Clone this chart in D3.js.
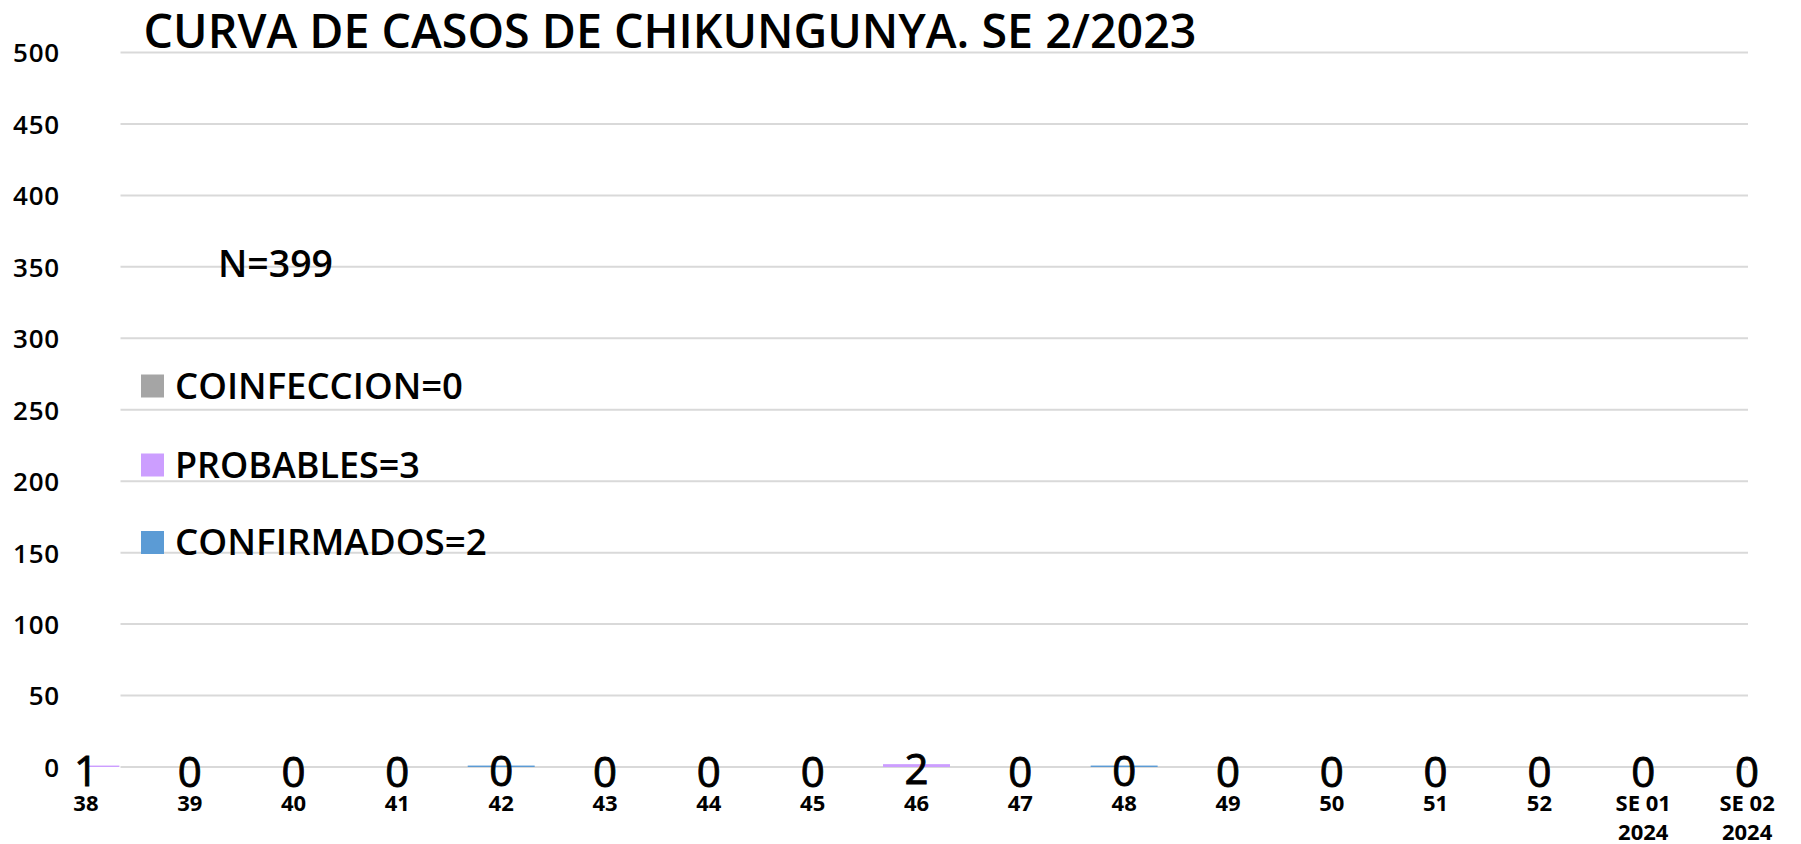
<!DOCTYPE html>
<html>
<head>
<meta charset="utf-8">
<script src="https://cdn.jsdelivr.net/npm/d3@7"></script>
<style>
  html, body { margin: 0; padding: 0; background: #fff; }
  svg { display: block; font-family: "Open Sans", "Noto Sans", sans-serif; }
</style>
</head>
<body>
<svg class="board" width="1801" height="844"></svg>
<script>
var weeks = ['38', '39', '40', '41', '42', '43', '44', '45', '46', '47', '48', '49', '50', '51', '52', 'SE 01|2024', 'SE 02|2024'];
var confirmados = [0, 0, 0, 0, 1, 0, 0, 0, 0, 0, 1, 0, 0, 0, 0, 0, 0];
var probables = [1, 0, 0, 0, 0, 0, 0, 0, 2, 0, 0, 0, 0, 0, 0, 0, 0];
var coinfeccion = [0, 0, 0, 0, 0, 0, 0, 0, 0, 0, 0, 0, 0, 0, 0, 0, 0];
var yTicks = [0, 50, 100, 150, 200, 250, 300, 350, 400, 450, 500];
var seriesNames = ['CONFIRMADOS', 'PROBABLES', 'COINFECCION'];
var legendLabels = ['COINFECCION=0', 'PROBABLES=3', 'CONFIRMADOS=2'];
var titleText = 'CURVA DE CASOS DE CHIKUNGUNYA. SE 2/2023';
var totalText = 'N=399';

var colors = {
  CONFIRMADOS: '#5b9bd5',
  PROBABLES: '#cc9eff',
  COINFECCION: '#a5a5a5'
};

var svg = d3.select('.board');

var x = d3.scaleBand()
  .domain(weeks)
  .range([34, 1799])
  .paddingInner(0.355)
  .paddingOuter(0.1775);

var y = d3.scaleLinear()
  .domain([0, 500])
  .range([767, 52.5]);

var gridLeft = 120.5;
var gridRight = 1748;

// fit a text element to a measured pixel width by tuning its font size
function fitWidth(sel, target) {
  var node = sel.node();
  var size = parseFloat(sel.attr('font-size'));
  var w = node.getComputedTextLength();
  sel.attr('font-size', +(size * target / w).toFixed(2));
}

// gridlines
svg.append('g')
  .selectAll('line')
  .data(yTicks)
  .enter()
  .append('line')
  .attr('x1', gridLeft)
  .attr('x2', gridRight)
  .attr('y1', d => y(d))
  .attr('y2', d => y(d))
  .attr('stroke', '#d9d9d9')
  .attr('stroke-width', 2);

// y axis labels
var yAxis = d3.axisLeft(y).tickValues(yTicks).tickSize(0).tickPadding(0);
var yG = svg.append('g')
  .attr('transform', 'translate(60,0)')
  .call(yAxis);
yG.select('.domain').remove();
yG.selectAll('text')
  .attr('font-size', 26)
  .attr('font-weight', 600)
  .attr('letter-spacing', 0.8)
  .attr('font-family', '"Open Sans", sans-serif')
  .attr('fill', '#000')
  .attr('dy', '0.36em');

// stacked bars
var table = weeks.map((w, i) => ({
  week: w,
  CONFIRMADOS: confirmados[i],
  PROBABLES: probables[i],
  COINFECCION: coinfeccion[i]
}));
var stacked = d3.stack().keys(seriesNames)(table);

svg.append('clipPath')
  .attr('id', 'plot-clip')
  .append('rect')
  .attr('x', x(weeks[0]) + x.bandwidth() / 2)
  .attr('y', 0)
  .attr('width', 1801)
  .attr('height', 844);

var barRoot = svg.append('g').attr('clip-path', 'url(#plot-clip)');
barRoot.selectAll('g')
  .data(stacked)
  .enter()
  .append('g')
  .attr('fill', s => colors[s.key])
  .selectAll('rect')
  .data(s => s)
  .enter()
  .append('rect')
  .attr('x', d => x(d.data.week))
  .attr('width', x.bandwidth())
  .attr('y', d => y(d[1]))
  .attr('height', d => y(d[0]) - y(d[1]));

// data labels (probables) at stack top
var topSeries = stacked[stacked.length - 1];
svg.append('g')
  .selectAll('text')
  .data(table)
  .enter()
  .append('text')
  .attr('x', d => x(d.week) + x.bandwidth() / 2)
  .attr('y', (d, i) => y(topSeries[i][1]) + 20)
  .attr('text-anchor', 'middle')
  .attr('font-size', 42)
  .attr('fill', '#000')
  .attr('stroke', '#000')
  .attr('stroke-width', 0.9)
  .text(d => d.PROBABLES);

// x axis labels
var xLabels = svg.append('g')
  .selectAll('text')
  .data(weeks)
  .enter()
  .append('text')
  .attr('x', d => x(d) + x.bandwidth() / 2)
  .attr('y', 811)
  .attr('text-anchor', 'middle')
  .attr('font-size', 22)
  .attr('font-weight', 'bold')
  .attr('fill', '#000');
xLabels.selectAll('tspan')
  .data(d => d.split('|'))
  .enter()
  .append('tspan')
  .attr('x', function() { return this.parentNode.getAttribute('x'); })
  .attr('dy', (d, i) => i ? 29 : 0)
  .text(d => d);

// title
var title = svg.append('text')
  .attr('x', 143.6)
  .attr('y', 48)
  .attr('font-size', 46)
  .attr('font-weight', 600)
  .attr('fill', '#000')
  .text(titleText);
fitWidth(title, 1053);

// N total
var total = svg.append('text')
  .attr('x', 218)
  .attr('y', 277)
  .attr('font-size', 32)
  .attr('font-weight', 600)
  .attr('fill', '#000')
  .text(totalText);
fitWidth(total, 115);

// legend
var legendKeys = ['COINFECCION', 'PROBABLES', 'CONFIRMADOS'];
var legendRowY = [374.5, 453.5, 531];
var legendWidths = [288, 245, 312];
var legend = svg.append('g')
  .selectAll('g')
  .data(legendKeys)
  .enter()
  .append('g')
  .attr('transform', (d, i) => `translate(141,${legendRowY[i]})`);
legend.append('rect')
  .attr('width', 23)
  .attr('height', 23)
  .attr('fill', d => colors[d]);
legend.append('text')
  .attr('x', 34)
  .attr('y', 24)
  .attr('font-size', 36)
  .attr('font-weight', 600)
  .attr('fill', '#000')
  .text((d, i) => legendLabels[i])
  .each(function(d, i) { fitWidth(d3.select(this), legendWidths[i]); });
</script>
</body>
</html>
